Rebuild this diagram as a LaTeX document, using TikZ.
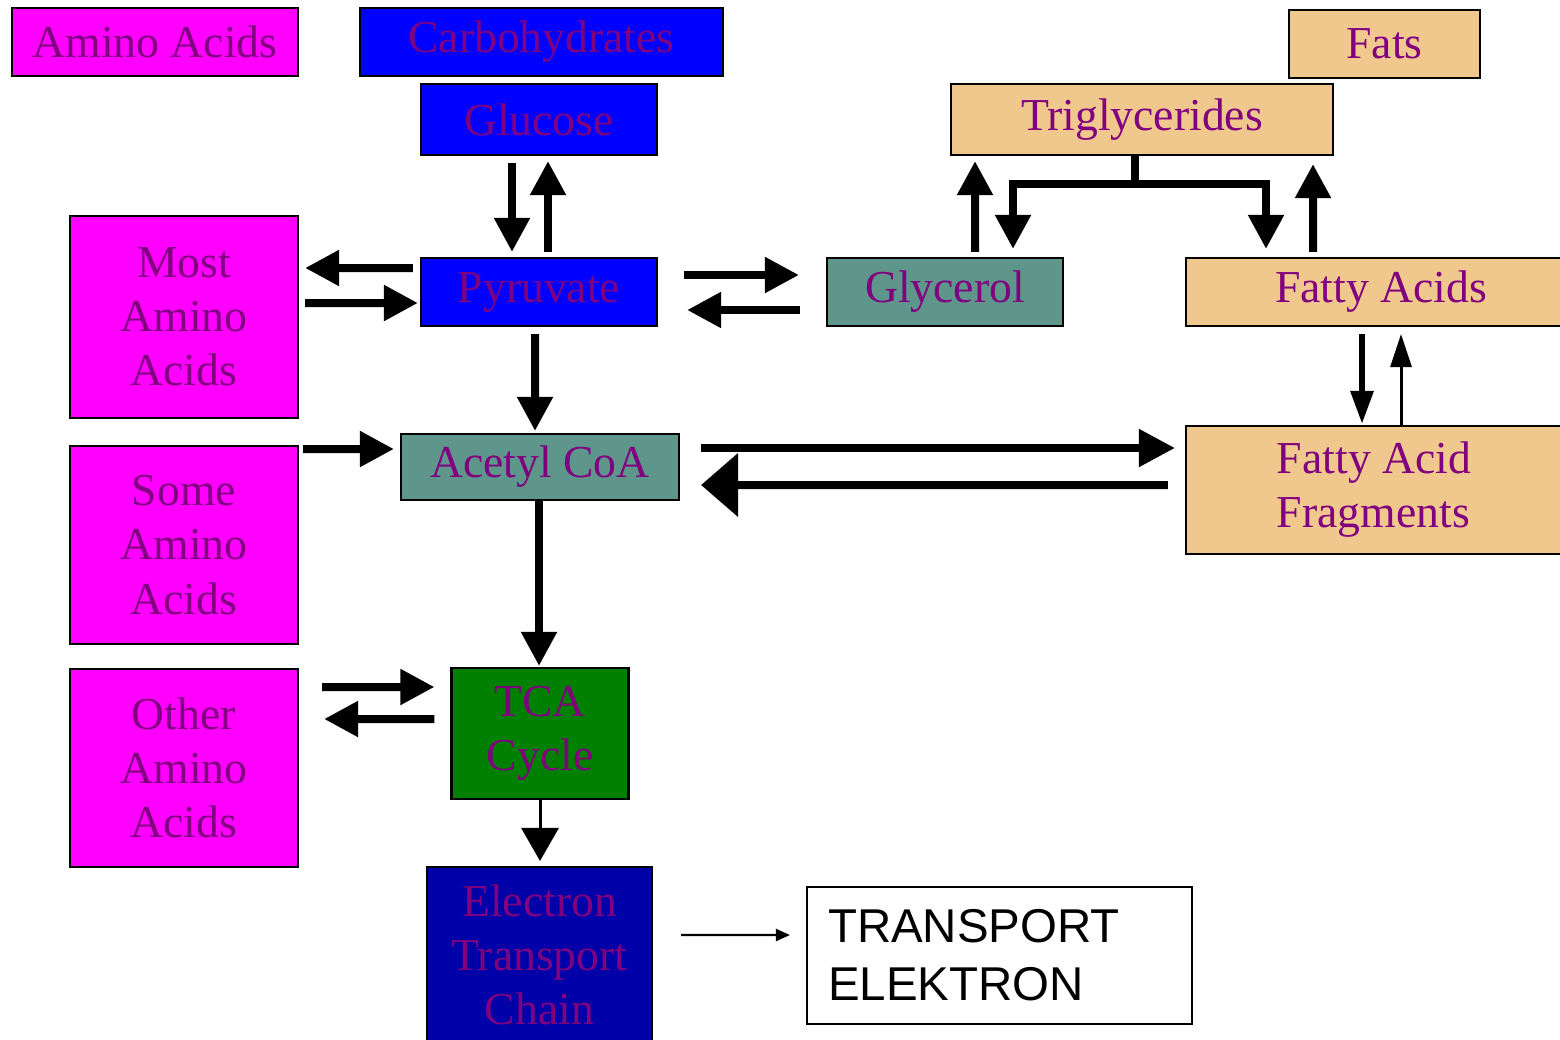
\documentclass[tikz,border=0pt]{standalone}
\usepackage{fontspec}
\setmainfont{Liberation Serif}
\setsansfont{Liberation Sans}
\usetikzlibrary{arrows.meta,calc}

\definecolor{aminopink}{HTML}{FF00FF}
\definecolor{carbblue}{HTML}{0000FF}
\definecolor{chainblue}{HTML}{0000A8}
\definecolor{fattan}{HTML}{F0C88E}
\definecolor{coateal}{HTML}{5F968C}
\definecolor{cyclegreen}{HTML}{008000}
\definecolor{labelpurple}{HTML}{800080}

\tikzset{
  box/.style={draw, line width=0.6pt, inner sep=0pt, align=center,
    text=labelpurple, font=\fontsize{13}{15.4}\selectfont},
  arr/.style={line width=0.08cm, -{Triangle[length=0.34cm,width=0.34cm]}},
  narrowarr/.style={line width=0.06cm, -{Triangle[length=0.33cm,width=0.22cm]}},
  thinarr/.style={line width=0.03cm, -{Triangle[length=0.33cm,width=0.21cm]}},
  bigarr/.style={line width=0.08cm, -{Triangle[length=0.37cm,width=0.62cm]}},
}

\begin{document}
\begin{tikzpicture}

        \useasboundingbox (0,0) rectangle (15.6,-10.39);

        \begin{scope}[every node/.style={box}]
          \node[fill=aminopink, minimum width=2.86cm, minimum height=0.68cm] (amino)   at (1.55,-0.42)   {Amino Acids};
          \node[fill=carbblue, minimum width=3.63cm, minimum height=0.68cm]  (carbs)   at (5.415,-0.42)  {Carbohydrates};
          \node[fill=carbblue, minimum width=2.36cm, minimum height=0.71cm]  (glucose) at (5.39,-1.195)  {Glucose};
          \node[fill=fattan, minimum width=1.91cm, minimum height=0.68cm]    (fats)    at (13.845,-0.44) {Fats};
          \node[fill=fattan, minimum width=3.82cm, minimum height=0.71cm]    (trigly)  at (11.42,-1.195) {Triglycerides};
          \node[fill=aminopink, minimum width=2.28cm, minimum height=2.02cm] (most)    at (1.84,-3.17)   {Most\\Amino\\Acids};
          \node[fill=carbblue, minimum width=2.36cm, minimum height=0.68cm]  (pyruvate) at (5.39,-2.92)  {Pyruvate};
          \node[fill=coateal, minimum width=2.36cm, minimum height=0.68cm]   (glycerol) at (9.45,-2.92)  {Glycerol};
          \node[fill=fattan, minimum width=3.76cm, minimum height=0.68cm]    (fatty)   at (13.74,-2.92)  {\hspace{0.14cm}Fatty Acids};
          \node[fill=aminopink, minimum width=2.28cm, minimum height=1.98cm] (some)    at (1.84,-5.45)   {Some\\Amino\\Acids};
          \node[fill=coateal, minimum width=2.78cm, minimum height=0.66cm]   (acetyl)  at (5.40,-4.67)   {Acetyl CoA};
          \node[fill=fattan, minimum width=3.76cm, minimum height=1.28cm, align=left] (frag) at (13.74,-4.90) {Fatty Acid\\Fragments};
          \node[fill=aminopink, minimum width=2.28cm, minimum height=1.98cm] (other)   at (1.84,-7.68)   {Other\\Amino\\Acids};
          \node[fill=cyclegreen, minimum width=1.77cm, minimum height=1.31cm] (tca)    at (5.40,-7.335)  {TCA\\Cycle};
          \node[fill=chainblue, minimum width=2.25cm, minimum height=1.76cm] (chain)   at (5.395,-9.55)  {Electron\\Transport\\Chain};
          \node[fill=white, text=black, text width=3.43cm, inner xsep=0.21cm, minimum height=1.37cm,
                align=left, font=\sffamily\fontsize{13.5}{16.5}\selectfont] (transport) at (9.995,-9.555) {TRANSPORT\\ELEKTRON};
        \end{scope}

        % glucose and pyruvate
        \draw[arr] ($(glucose.south)+(-0.27,-0.07)$) -- ($(pyruvate.north)+(-0.27,0.05)$);
        \draw[arr] ($(pyruvate.north)+(0.09,0.05)$) -- ($(glucose.south)+(0.09,-0.05)$);

        % amino acids in and out
        \draw[arr] ($(pyruvate.west)+(-0.07,0.24)$) -- ($(most.east)+(0.06,0.49)$);
        \draw[arr] ($(most.east)+(0.06,0.14)$) -- ($(pyruvate.west)+(-0.02,-0.11)$);
        \draw[arr] ($(some.east)+(0.04,0.96)$) -- ($(acetyl.west)+(-0.06,0.18)$);
        \draw[arr] ($(other.east)+(0.23,0.81)$) -- ($(tca.west)+(-0.16,0.465)$);
        \draw[arr] ($(tca.west)+(-0.16,0.145)$) -- ($(other.east)+(0.25,0.49)$);

        % pyruvate and glycerol
        \draw[arr] ($(pyruvate.east)+(0.26,0.17)$) -- ($(glycerol.west)+(-0.27,0.17)$);
        \draw[arr] ($(glycerol.west)+(-0.26,-0.18)$) -- ($(pyruvate.east)+(0.29,-0.18)$);

        % fats
        \draw[arr] ($(glycerol.north)+(0.30,0.05)$) -- ($(trigly.south)+(-1.67,-0.05)$);
        \coordinate (fork) at ($(trigly.south)+(-0.07,-0.28)$);
        \draw[line width=0.08cm] ($(trigly.south)+(-0.07,0)$) -- (fork);
        \draw[arr] (fork) -| ($(glycerol.north)+(0.68,0.08)$);
        \draw[arr] (fork) -| ($(fatty.north)+(-1.08,0.08)$);
        \draw[arr] ($(fatty.north)+(-0.61,0.05)$) -- ($(trigly.south)+(1.71,-0.08)$);
        \draw[narrowarr] ($(fatty.south)+(-0.12,-0.07)$) -- ($(frag.north)+(-0.12,0.01)$);
        \draw[thinarr] ($(frag.north)+(0.27,0)$) -- ($(fatty.south)+(0.27,-0.07)$);

        % into the cycle
        \draw[arr] ($(pyruvate.south)+(-0.04,-0.07)$) -- ($(acetyl.north)+(-0.05,0.02)$);
        \draw[line width=0.08cm, -{Triangle[length=0.36cm,width=0.36cm]}] ($(acetyl.east)+(0.21,0.19)$) -- ($(frag.west)+(-0.10,0.42)$);
        \draw[bigarr] ($(frag.west)+(-0.17,0.05)$) -- ($(acetyl.east)+(0.21,-0.18)$);
        \draw[arr] ($(acetyl.south)+(-0.01,0)$) -- ($(tca.north)+(-0.01,0.01)$);
        \draw[line width=0.03cm, -{Triangle[length=0.33cm,width=0.37cm]}] (tca.south) -- ($(tca.south |- chain.north)+(0,0.05)$);
        \draw[line width=0.6pt, -{Triangle[length=0.14cm,width=0.12cm]}] ($(chain.east)+(0.28,0.20)$) -- ($(transport.west)+(-0.16,0.205)$);

      \end{tikzpicture}
\end{document}
